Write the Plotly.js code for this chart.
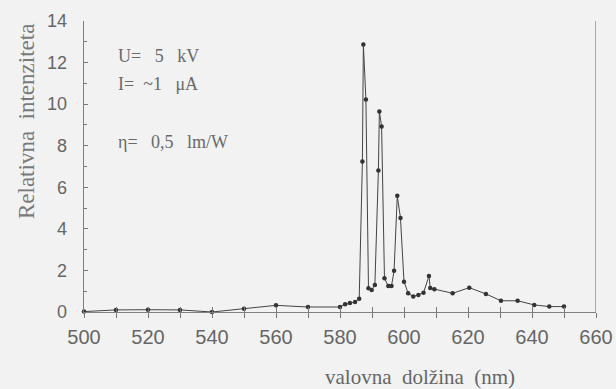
<!DOCTYPE html>
<html>
<head>
<meta charset="utf-8">
<script src="https://cdn.plot.ly/plotly-3.0.1.min.js"></script>
<style>html,body{margin:0;padding:0;background:#f2f2f2;}#chart{width:616px;height:389px;}</style>
</head>
<body>
<div id="chart"></div>
<script>
// wavelength (nm)
const wavelength = [500, 510, 520, 530, 540, 550, 560, 570, 580, 581.6, 583.1, 584.7, 586.0,
  587.0, 587.3, 588.1, 588.9, 589.9, 590.9, 592.0, 592.3, 593.0, 593.9, 595.1, 596.1, 596.9,
  597.9, 598.9, 600.0, 601.3, 602.9, 604.5, 606.1, 607.8, 608.2, 609.5, 615.2, 620.4, 625.6,
  630.3, 635.5, 640.7, 645.4, 650];
// relative intensity
const intensity = [0.02, 0.1, 0.11, 0.1, 0.0, 0.16, 0.32, 0.24, 0.24, 0.37, 0.43, 0.48, 0.64,
  7.24, 12.87, 10.22, 1.14, 1.06, 1.3, 6.81, 9.65, 8.93, 1.62, 1.25, 1.25, 1.99,
  5.59, 4.52, 1.46, 0.9, 0.74, 0.82, 0.93, 1.73, 1.16, 1.1, 0.9, 1.17, 0.87,
  0.54, 0.54, 0.34, 0.26, 0.26];
const xTicks = [500, 520, 540, 560, 580, 600, 620, 640, 660];
const yTicks = [0, 2, 4, 6, 8, 10, 12, 14];
const notes = ["U=&nbsp;&nbsp;&nbsp;5&nbsp;&nbsp;&nbsp;kV", "I=&nbsp;&nbsp;~1&nbsp;&nbsp;&nbsp;μA", "η=&nbsp;&nbsp;&nbsp;0,5&nbsp;&nbsp;&nbsp;lm/W"];
const noteY = [12.3, 10.95, 8.2];

const gray = '#666';
const serif = 'Liberation Serif, Times New Roman, serif';
const sans = 'Liberation Sans, Arial, sans-serif';

const trace = {
  x: wavelength, y: intensity, type: 'scatter', mode: 'lines+markers',
  line: {color: '#444', width: 1},
  marker: {color: '#333', size: 4.5, symbol: 'circle'},
  cliponaxis: false, hoverinfo: 'skip'
};
const dummy = {x: [500], y: [0], xaxis: 'x2', yaxis: 'y', mode: 'none', showlegend: false, hoverinfo: 'skip'};

const annotations = notes.map((t, i) => ({
  x: 510, y: noteY[i], xref: 'x', yref: 'y', text: t, showarrow: false,
  xanchor: 'left', yanchor: 'middle', font: {family: serif, size: 18, color: '#6a6a6a'}
}));
annotations.push({
  xref: 'paper', yref: 'paper', x: -0.112, y: 0.655, text: 'Relativna&nbsp;&nbsp;intenziteta',
  textangle: -90, showarrow: false, xanchor: 'center', yanchor: 'middle',
  font: {family: serif, size: 23, color: '#7a7a7a'}
});
annotations.push({
  xref: 'paper', yref: 'paper', x: 0.656, y: -0.222, text: 'valovna&nbsp;&nbsp;dolžina&nbsp;&nbsp;(nm)',
  showarrow: false, xanchor: 'center', yanchor: 'middle',
  font: {family: serif, size: 21, color: '#666'}
});

const layout = {
  width: 616, height: 389,
  margin: {l: 84, r: 20, t: 21, b: 77},
  paper_bgcolor: '#f2f2f2', plot_bgcolor: '#f2f2f2',
  showlegend: false,
  xaxis: {
    range: [500, 660], tickvals: xTicks, ticktext: xTicks.map(String),
    showgrid: false, zeroline: false, showline: true, linecolor: '#808080', linewidth: 1.3,
    ticks: 'inside', ticklen: 5, tickcolor: '#777',
    minor: {dtick: 10, tick0: 500, ticks: 'inside', ticklen: 5, tickcolor: '#777'},
    tickfont: {family: sans, size: 20, color: gray}, ticklabelstandoff: 7
  },
  xaxis2: {
    overlaying: 'x', matches: 'x', side: 'bottom', showline: false, showgrid: false, zeroline: false,
    tickvals: xTicks, showticklabels: false, ticks: 'outside', ticklen: 5, tickcolor: '#777',
    minor: {dtick: 10, tick0: 500, ticks: 'outside', ticklen: 5, tickcolor: '#777'}
  },
  yaxis: {
    range: [0, 14], tickvals: yTicks, ticktext: yTicks.map(String),
    showgrid: false, zeroline: false, showline: true, linecolor: '#808080', linewidth: 1.3,
    ticks: 'inside', ticklen: 4, tickcolor: '#777',
    minor: {dtick: 1, ticks: 'inside', ticklen: 3, tickcolor: '#777'},
    tickfont: {family: sans, size: 18, color: gray}, ticklabelstandoff: 12
  },
  shapes: [{type: 'line', xref: 'x', yref: 'paper', x0: 660, x1: 660, y0: 0, y1: 1,
    line: {color: '#808080', width: 1.3}}],
  annotations: annotations
};

Plotly.newPlot('chart', [trace, dummy], layout, {staticPlot: true, displayModeBar: false});
</script>
</body>
</html>
